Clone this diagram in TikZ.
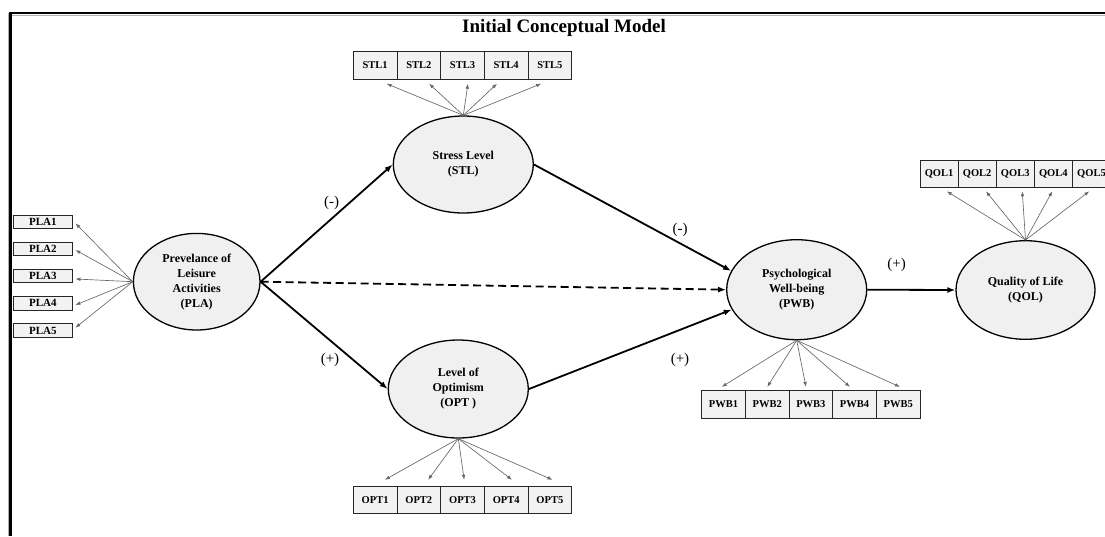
\documentclass[tikz,border=0pt]{standalone}
\usepackage{fontspec}
\setmainfont{Liberation Serif}
\usetikzlibrary{shapes.geometric,arrows.meta,calc}
\definecolor{latfill}{HTML}{F0F0F0}
\definecolor{boxfill}{HTML}{F2F2F2}
\definecolor{loadcol}{HTML}{666666}
\begin{document}
\begin{tikzpicture}[x=1pt,y=-1pt,
  latent/.style={ellipse,draw=black,line width=1.3pt,fill=latfill,inner sep=0pt,align=center,
    font=\fontsize{12}{15}\selectfont\bfseries},
  indbox/.style={rectangle,draw=black!85,line width=0.9pt,fill=boxfill,minimum width=43.7pt,
    minimum height=27.5pt,inner sep=0pt,font=\fontsize{10.5}{12}\selectfont\bfseries},
  plabox/.style={indbox,minimum width=59pt,minimum height=13.5pt,font=\fontsize{11}{12}\selectfont\bfseries},
  qolbox/.style={indbox,minimum width=38.1pt},
  load/.style={draw=loadcol,line width=0.65pt,-{Latex[length=5pt,width=3.6pt]}},
  struct/.style={draw=black,line width=1.8pt,-{Latex[length=8pt,width=6pt]}},
  sign/.style={font=\fontsize{15}{17}\selectfont,inner sep=0pt},
]
\useasboundingbox (0,0) rectangle (1105,536);
% frame
\draw[black!30,line width=1pt] (1105,15.6) -- (8.2,15.6);
\draw[black!30,line width=1pt] (8.2,13) -- (8.2,536);
\draw[black,line width=2.8pt] (1105,13) -- (10.4,13) -- (10.4,536);
% title
\node (title) at (564,28) {\fontsize{19}{22}\selectfont\bfseries Initial Conceptual Model};
% latent variables
\node[latent,minimum width=126.6pt,minimum height=96.6pt] (pla) at (196.7,281.7)
  {Prevelance of\\Leisure\\Activities\\(PLA)};
\node[latent,minimum width=140pt,minimum height=97pt] (stl) at (463.3,164.5)
  {Stress Level\\(STL)};
\node[latent,minimum width=140pt,minimum height=98pt] (opt) at (458.3,389)
  {Level of\\Optimism\\(OPT )};
\node[latent,minimum width=140pt,minimum height=100pt] (pwb) at (796.7,289.7)
  {Psychological\\Well-being\\(PWB)};
\node[latent,minimum width=139pt,minimum height=98.6pt] (qol) at (1025.5,290)
  {Quality of Life\\(QOL)};
% indicator boxes
\foreach \i in {1,...,5}{
  \node[indbox] (stl\i) at ({353.3+43.68*(\i-0.5)},65.5) {STL\i};
  \node[indbox] (opt\i) at ({353.3+43.68*(\i-0.5)},500) {OPT\i};
  \node[indbox] (pwb\i) at ({701.7+43.66*(\i-0.5)},404.5) {PWB\i};
  \node[qolbox] (qol\i) at ({920+38.1*(\i-0.5)},173.7) {QOL\i};
  \node[plabox] (pla\i) at (42.8,{221.7+27.2*(\i-1)}) {PLA\i};
}
% loadings
\foreach \i/\dx in {1/11.4,2/10.3,3/5.4,4/-9.2,5/-8.7}
  \draw[load] (stl.north) -- ($(stl\i.south)+(\dx,4)$);
\foreach \i/\dx in {1/9.7,2/9.3,3/1.7,4/5.8,5/2.6}
  \draw[load] (opt.south) -- ($(opt\i.north)+(\dx,-6)$);
\foreach \i/\dx in {1/-1.8,2/0.1,3/-4.9,4/-4.5,5/1.8}
  \draw[load] (pwb.south) -- ($(pwb\i.north)+(\dx,-3.4)$);
\foreach \i/\dx in {1/7.7,2/8.8,3/7,4/-1.1,5/-2.2}
  \draw[load] (qol.north) -- ($(qol\i.south)+(\dx,3.4)$);
\foreach \i/\dy in {1/1.6,2/1.1,3/2.9,4/1.7,5/-2.8}
  \draw[load] (pla.west) -- ($(pla\i.east)+(2.7,\dy)$);
% structural paths
\draw[struct] (pla.east) -- (stl.west);
\draw[struct] (pla.east) -- (opt.west);
\draw[struct,dash pattern=on 8pt off 4.5pt] (pla.east) -- (pwb.west);
\draw[struct] (stl.east) -- (pwb.164);
\draw[struct] (opt.east) -- (pwb.197);
\draw[struct] (pwb.east) -- (qol.west);
% signs
\node[sign] (s1) at (331.7,203.3) {(-)};
\node[sign] (s2) at (330,360) {(+)};
\node[sign] (s3) at (680,230) {(-)};
\node[sign] (s4) at (680,360) {(+)};
\node[sign] (s5) at (896.7,265) {(+)};
\end{tikzpicture}
\end{document}
